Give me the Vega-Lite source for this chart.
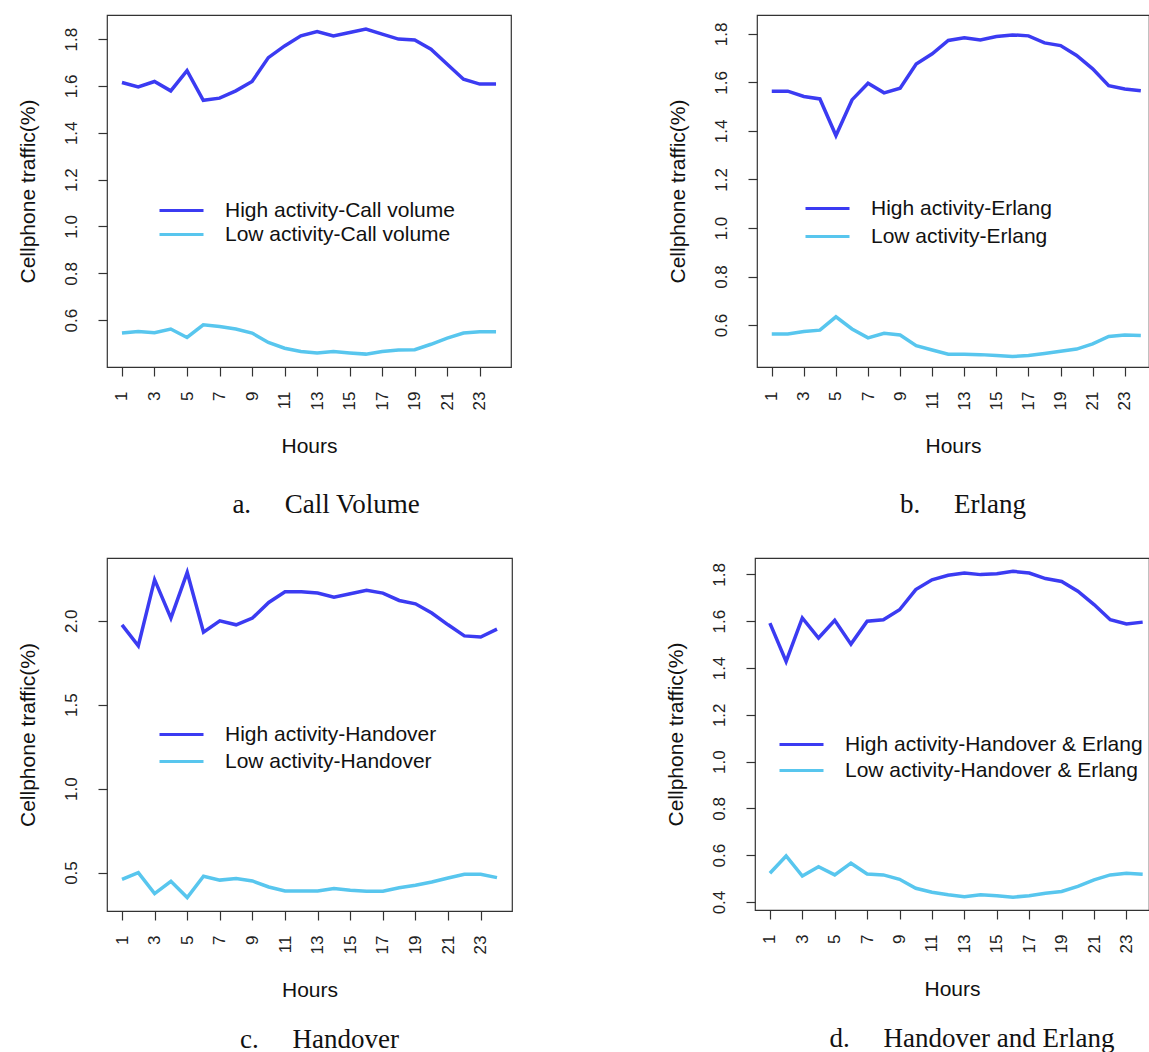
{
  "$schema": "https://vega.github.io/schema/vega-lite/v6.json",
  "padding": {"top": 14, "left": 16, "right": 0, "bottom": 0},
  "background": "white",
  "datasets": {
    "a": [
      {"h":1,"hi":1.615,"lo":0.545},{"h":2,"hi":1.596,"lo":0.552},{"h":3,"hi":1.619,"lo":0.546},{"h":4,"hi":1.579,"lo":0.562},
      {"h":5,"hi":1.665,"lo":0.526},{"h":6,"hi":1.539,"lo":0.580},{"h":7,"hi":1.548,"lo":0.573},{"h":8,"hi":1.579,"lo":0.562},
      {"h":9,"hi":1.619,"lo":0.545},{"h":10,"hi":1.721,"lo":0.505},{"h":11,"hi":1.771,"lo":0.480},{"h":12,"hi":1.814,"lo":0.466},
      {"h":13,"hi":1.832,"lo":0.460},{"h":14,"hi":1.814,"lo":0.466},{"h":15,"hi":1.828,"lo":0.460},{"h":16,"hi":1.843,"lo":0.455},
      {"h":17,"hi":1.821,"lo":0.466},{"h":18,"hi":1.800,"lo":0.473},{"h":19,"hi":1.796,"lo":0.474},{"h":20,"hi":1.757,"lo":0.497},
      {"h":21,"hi":1.693,"lo":0.523},{"h":22,"hi":1.629,"lo":0.545},{"h":23,"hi":1.608,"lo":0.551},{"h":24,"hi":1.608,"lo":0.551}
    ],
    "b": [
      {"h":1,"hi":1.564,"lo":0.563},{"h":2,"hi":1.564,"lo":0.563},{"h":3,"hi":1.542,"lo":0.573},{"h":4,"hi":1.532,"lo":0.579},
      {"h":5,"hi":1.381,"lo":0.634},{"h":6,"hi":1.528,"lo":0.584},{"h":7,"hi":1.597,"lo":0.547},{"h":8,"hi":1.557,"lo":0.566},
      {"h":9,"hi":1.576,"lo":0.559},{"h":10,"hi":1.676,"lo":0.515},{"h":11,"hi":1.718,"lo":0.497},{"h":12,"hi":1.773,"lo":0.480},
      {"h":13,"hi":1.784,"lo":0.480},{"h":14,"hi":1.775,"lo":0.478},{"h":15,"hi":1.789,"lo":0.474},{"h":16,"hi":1.796,"lo":0.470},
      {"h":17,"hi":1.792,"lo":0.474},{"h":18,"hi":1.763,"lo":0.483},{"h":19,"hi":1.752,"lo":0.492},{"h":20,"hi":1.711,"lo":0.501},
      {"h":21,"hi":1.656,"lo":0.522},{"h":22,"hi":1.587,"lo":0.553},{"h":23,"hi":1.573,"lo":0.559},{"h":24,"hi":1.566,"lo":0.557}
    ],
    "c": [
      {"h":1,"hi":1.976,"lo":0.460},{"h":2,"hi":1.851,"lo":0.500},{"h":3,"hi":2.245,"lo":0.375},{"h":4,"hi":2.016,"lo":0.448},
      {"h":5,"hi":2.288,"lo":0.351},{"h":6,"hi":1.932,"lo":0.478},{"h":7,"hi":2.000,"lo":0.455},{"h":8,"hi":1.976,"lo":0.464},
      {"h":9,"hi":2.016,"lo":0.450},{"h":10,"hi":2.109,"lo":0.414},{"h":11,"hi":2.173,"lo":0.390},{"h":12,"hi":2.173,"lo":0.390},
      {"h":13,"hi":2.165,"lo":0.390},{"h":14,"hi":2.141,"lo":0.405},{"h":15,"hi":2.161,"lo":0.395},{"h":16,"hi":2.181,"lo":0.389},
      {"h":17,"hi":2.165,"lo":0.389},{"h":18,"hi":2.121,"lo":0.410},{"h":19,"hi":2.101,"lo":0.424},{"h":20,"hi":2.046,"lo":0.444},
      {"h":21,"hi":1.976,"lo":0.468},{"h":22,"hi":1.910,"lo":0.490},{"h":23,"hi":1.903,"lo":0.490},{"h":24,"hi":1.950,"lo":0.470}
    ],
    "d": [
      {"h":1,"hi":1.592,"lo":0.523},{"h":2,"hi":1.428,"lo":0.597},{"h":3,"hi":1.614,"lo":0.511},{"h":4,"hi":1.528,"lo":0.551},
      {"h":5,"hi":1.604,"lo":0.516},{"h":6,"hi":1.502,"lo":0.566},{"h":7,"hi":1.600,"lo":0.520},{"h":8,"hi":1.606,"lo":0.516},
      {"h":9,"hi":1.649,"lo":0.497},{"h":10,"hi":1.735,"lo":0.459},{"h":11,"hi":1.777,"lo":0.442},{"h":12,"hi":1.796,"lo":0.431},
      {"h":13,"hi":1.806,"lo":0.423},{"h":14,"hi":1.799,"lo":0.431},{"h":15,"hi":1.803,"lo":0.427},{"h":16,"hi":1.813,"lo":0.421},
      {"h":17,"hi":1.806,"lo":0.427},{"h":18,"hi":1.782,"lo":0.438},{"h":19,"hi":1.770,"lo":0.445},{"h":20,"hi":1.728,"lo":0.467},
      {"h":21,"hi":1.671,"lo":0.495},{"h":22,"hi":1.606,"lo":0.516},{"h":23,"hi":1.588,"lo":0.523},{"h":24,"hi":1.596,"lo":0.519}
    ]
  },
  "vconcat": [
    {
      "spacing": 154,
      "hconcat": [
        {
          "width": 404, "height": 352,
          "data": {"name": "a"},
          "title": {"text": "a.\u00a0\u00a0\u00a0\u00a0\u00a0Call Volume", "dx": 17},
          "encoding": {"x": {"field": "h", "type": "quantitative", "title": "Hours", "scale": {"domain": [0.08, 24.92], "nice": false, "zero": false}, "axis": {"values": [1,3,5,7,9,11,13,15,17,19,21,23]}}},
          "layer": [
            {"mark": {"type": "line", "strokeWidth": 3.5},
             "encoding": {"y": {"field": "hi", "type": "quantitative", "title": "Cellphone traffic(%)", "scale": {"domain": [0.40, 1.903], "nice": false, "zero": false}, "axis": {"values": [0.6,0.8,1.0,1.2,1.4,1.6,1.8], "format": ".1f"}},
                          "color": {"datum": "High activity-Call volume", "scale": {"range": ["#3B3BF2"]}, "legend": {"title": null, "orient": "none", "legendX": 51, "legendY": 172}}}},
            {"mark": {"type": "line", "strokeWidth": 3.5},
             "encoding": {"y": {"field": "lo", "type": "quantitative", "title": "Cellphone traffic(%)"},
                          "color": {"datum": "Low activity-Call volume", "scale": {"range": ["#58C6EE"]}, "legend": {"title": null, "orient": "none", "legendX": 51, "legendY": 196}}}}
          ],
          "resolve": {"scale": {"color": "independent"}, "legend": {"color": "independent"}}
        },
        {
          "width": 392, "height": 352,
          "data": {"name": "b"},
          "title": {"text": "b.\u00a0\u00a0\u00a0\u00a0\u00a0Erlang", "dx": 10},
          "encoding": {"x": {"field": "h", "type": "quantitative", "title": "Hours", "scale": {"domain": [0.08, 24.51], "nice": false, "zero": false}, "axis": {"values": [1,3,5,7,9,11,13,15,17,19,21,23]}}},
          "layer": [
            {"mark": {"type": "line", "strokeWidth": 3.5},
             "encoding": {"y": {"field": "hi", "type": "quantitative", "title": "Cellphone traffic(%)", "scale": {"domain": [0.427, 1.878], "nice": false, "zero": false}, "axis": {"values": [0.6,0.8,1.0,1.2,1.4,1.6,1.8], "format": ".1f"}},
                          "color": {"datum": "High activity-Erlang", "scale": {"range": ["#3B3BF2"]}, "legend": {"title": null, "orient": "none", "legendX": 47, "legendY": 170}}}},
            {"mark": {"type": "line", "strokeWidth": 3.5},
             "encoding": {"y": {"field": "lo", "type": "quantitative", "title": "Cellphone traffic(%)"},
                          "color": {"datum": "Low activity-Erlang", "scale": {"range": ["#58C6EE"]}, "legend": {"title": null, "orient": "none", "legendX": 47, "legendY": 198}}}}
          ],
          "resolve": {"scale": {"color": "independent"}, "legend": {"color": "independent"}}
        }
      ]
    },
    {
      "spacing": 151,
      "hconcat": [
        {
          "width": 405, "height": 353,
          "data": {"name": "c"},
          "title": {"text": "c.\u00a0\u00a0\u00a0\u00a0\u00a0Handover", "dx": 10, "offset": 26},
          "encoding": {"x": {"field": "h", "type": "quantitative", "title": "Hours", "scale": {"domain": [0.08, 24.92], "nice": false, "zero": false}, "axis": {"values": [1,3,5,7,9,11,13,15,17,19,21,23]}}},
          "layer": [
            {"mark": {"type": "line", "strokeWidth": 3.5},
             "encoding": {"y": {"field": "hi", "type": "quantitative", "title": "Cellphone traffic(%)", "scale": {"domain": [0.271, 2.374], "nice": false, "zero": false}, "axis": {"values": [0.5,1.0,1.5,2.0], "format": ".1f"}},
                          "color": {"datum": "High activity-Handover", "scale": {"range": ["#3B3BF2"]}, "legend": {"title": null, "orient": "none", "legendX": 51, "legendY": 153}}}},
            {"mark": {"type": "line", "strokeWidth": 3.5},
             "encoding": {"y": {"field": "lo", "type": "quantitative", "title": "Cellphone traffic(%)"},
                          "color": {"datum": "Low activity-Handover", "scale": {"range": ["#58C6EE"]}, "legend": {"title": null, "orient": "none", "legendX": 51, "legendY": 180}}}}
          ],
          "resolve": {"scale": {"color": "independent"}, "legend": {"color": "independent"}}
        },
        {
          "width": 394, "height": 352,
          "data": {"name": "d"},
          "title": {"text": "d.\u00a0\u00a0\u00a0\u00a0\u00a0Handover and Erlang", "dx": 20, "offset": 26},
          "encoding": {"x": {"field": "h", "type": "quantitative", "title": "Hours", "scale": {"domain": [0.08, 24.39], "nice": false, "zero": false}, "axis": {"values": [1,3,5,7,9,11,13,15,17,19,21,23]}}},
          "layer": [
            {"mark": {"type": "line", "strokeWidth": 3.5},
             "encoding": {"y": {"field": "hi", "type": "quantitative", "title": "Cellphone traffic(%)", "scale": {"domain": [0.366, 1.87], "nice": false, "zero": false}, "axis": {"values": [0.4,0.6,0.8,1.0,1.2,1.4,1.6,1.8], "format": ".1f"}},
                          "color": {"datum": "High activity-Handover & Erlang", "scale": {"range": ["#3B3BF2"]}, "legend": {"title": null, "orient": "none", "legendX": 23, "legendY": 163}}}},
            {"mark": {"type": "line", "strokeWidth": 3.5},
             "encoding": {"y": {"field": "lo", "type": "quantitative", "title": "Cellphone traffic(%)"},
                          "color": {"datum": "Low activity-Handover & Erlang", "scale": {"range": ["#58C6EE"]}, "legend": {"title": null, "orient": "none", "legendX": 23, "legendY": 189}}}}
          ],
          "resolve": {"scale": {"color": "independent"}, "legend": {"color": "independent"}}
        }
      ]
    }
  ],
  "spacing": 38,
  "config": {
    "view": {"stroke": "#333333", "strokeWidth": 1.2},
    "title": {"orient": "bottom", "anchor": "middle", "font": "Liberation Serif", "fontSize": 27, "fontWeight": "normal", "color": "#111111", "offset": 35},
    "axis": {"grid": false, "domain": false, "tickColor": "#333333", "tickSize": 9, "tickWidth": 1.2, "labelFont": "Liberation Sans", "labelFontSize": 17, "labelColor": "#222222", "titleFont": "Liberation Sans", "titleFontSize": 21, "titleFontWeight": "normal", "titleColor": "#111111", "labelOverlap": false, "labelFlush": false},
    "axisX": {"labelAngle": -90, "labelAlign": "right", "labelBaseline": "middle", "labelPadding": 15, "titlePadding": 26},
    "axisY": {"labelAngle": -90, "labelAlign": "center", "labelBaseline": "bottom", "labelPadding": 18, "titlePadding": 24},
    "legend": {"labelFont": "Liberation Sans", "labelFontSize": 21, "labelColor": "#111111", "symbolType": "stroke", "symbolSize": 1936, "symbolStrokeWidth": 3, "labelOffset": 20, "padding": 0, "labelLimit": 500}
  }
}
